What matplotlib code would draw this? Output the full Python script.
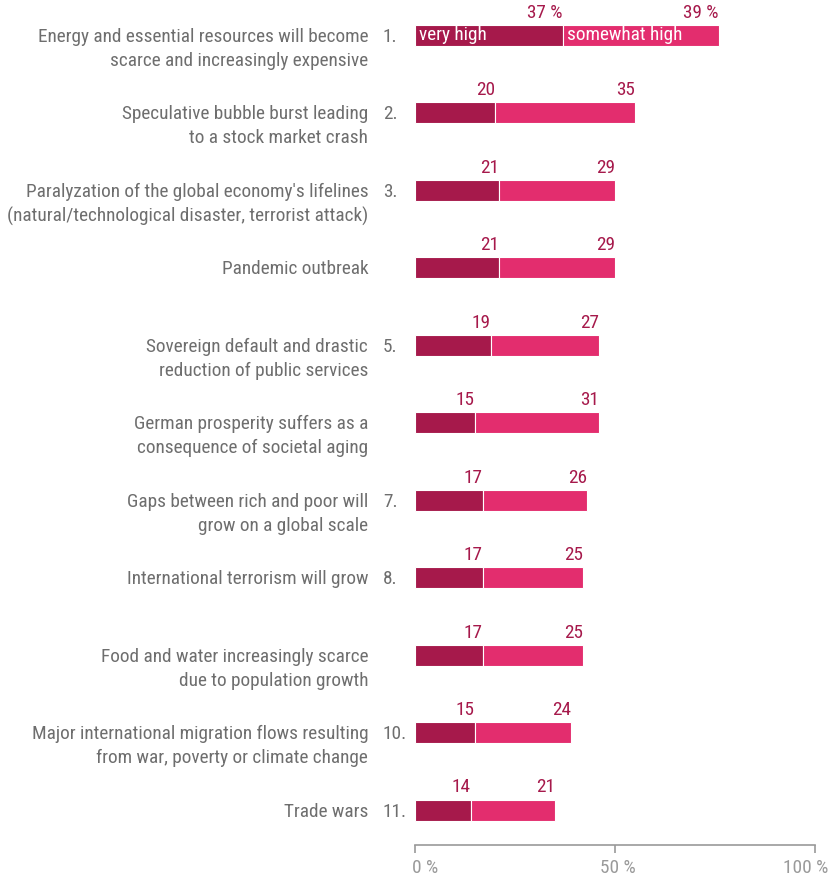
import matplotlib
matplotlib.use("Agg")
import matplotlib.pyplot as plt
import matplotlib.transforms as mtransforms

labels = [
    "Energy and essential resources will become\nscarce and increasingly expensive",
    "Speculative bubble burst leading\nto a stock market crash",
    "Paralyzation of the global economy's lifelines\n(natural/technological disaster, terrorist attack)",
    "Pandemic outbreak",
    "Sovereign default and drastic\nreduction of public services",
    "German prosperity suffers as a\nconsequence of societal aging",
    "Gaps between rich and poor will\ngrow on a global scale",
    "International terrorism will grow",
    "Food and water increasingly scarce\ndue to population growth",
    "Major international migration flows resulting\nfrom war, poverty or climate change",
    "Trade wars",
]
ranks = ["1.", "2.", "3.", "", "5.", "", "7.", "8.", "", "10.", "11."]
very_high = [37, 20, 21, 21, 19, 15, 17, 17, 17, 15, 14]
somewhat_high = [39, 35, 29, 29, 27, 31, 26, 25, 25, 24, 21]
ticks = [0, 50, 100]
tick_labels = ["0 %", "50 %", "100 %"]

DARK = "#A6194B"
LIGHT = "#E32D6E"
GRAY = "#6E6E6E"
plt.rcParams["font.family"] = ["Roboto Condensed", "Fira Sans Condensed", "DejaVu Sans"]

W, H = 837, 876
fig = plt.figure(figsize=(W / 100, H / 100), dpi=100)
x0, x1 = 415, 815
ytop, ybot = 0, 845
ax = fig.add_axes([x0 / W, 1 - ybot / H, (x1 - x0) / W, (ybot - ytop) / H])
step = 77.45
c0 = 35.5
ax.set_xlim(0, 100)
ax.set_ylim((ybot - c0) / step, (ytop - c0) / step)

n = len(labels)
pos = list(range(n))
bh = 21 / step
ax.barh(pos, very_high, height=bh, color=DARK, edgecolor="white", linewidth=0.8)
ax.barh(pos, somewhat_high, left=very_high, height=bh, color=LIGHT,
        edgecolor="white", linewidth=0.8)

fs = 13.9
line_gap = 24 / step
for i in pos:
    suffix = " %" if i == 0 else ""
    ax.text(very_high[i], i - bh / 2 - 0.04, f"{very_high[i]}{suffix}", ha="right",
            va="bottom", color=DARK, fontsize=fs)
    ax.text(very_high[i] + somewhat_high[i], i - bh / 2 - 0.04,
            f"{somewhat_high[i]}{suffix}", ha="right", va="bottom", color=DARK, fontsize=fs)
    for k, line in enumerate(labels[i].split("\n")):
        ax.text(-11.7, i + 0.02 + k * line_gap, line, ha="right", va="center",
                color=GRAY, fontsize=fs)
    if ranks[i]:
        ax.text(-8.0, i + 0.02, ranks[i], ha="left", va="center", color=GRAY,
                fontsize=fs)

ax.text(1.0, 0, "very high", ha="left", va="center", color="white", fontsize=fs)
ax.text(very_high[0] + 1.0, 0, "somewhat high", ha="left", va="center", color="white",
        fontsize=fs)

for s in ["top", "right", "left"]:
    ax.spines[s].set_visible(False)
ax.spines["bottom"].set_color("#999999")
ax.spines["bottom"].set_linewidth(1.2)
ax.set_yticks([])
ax.set_xticks(ticks)
ax.set_xticklabels(tick_labels, color="#9A9A9A", fontsize=fs)
ax.tick_params(axis="x", length=6, width=1.2, color="#999999", pad=4)
shifts = [10, 3, -9]
for lab, dx in zip(ax.get_xticklabels(), shifts):
    lab.set_transform(lab.get_transform() +
                      mtransforms.ScaledTranslation(dx / 100, 0, fig.dpi_scale_trans))

fig.savefig("out.png", dpi=100)
